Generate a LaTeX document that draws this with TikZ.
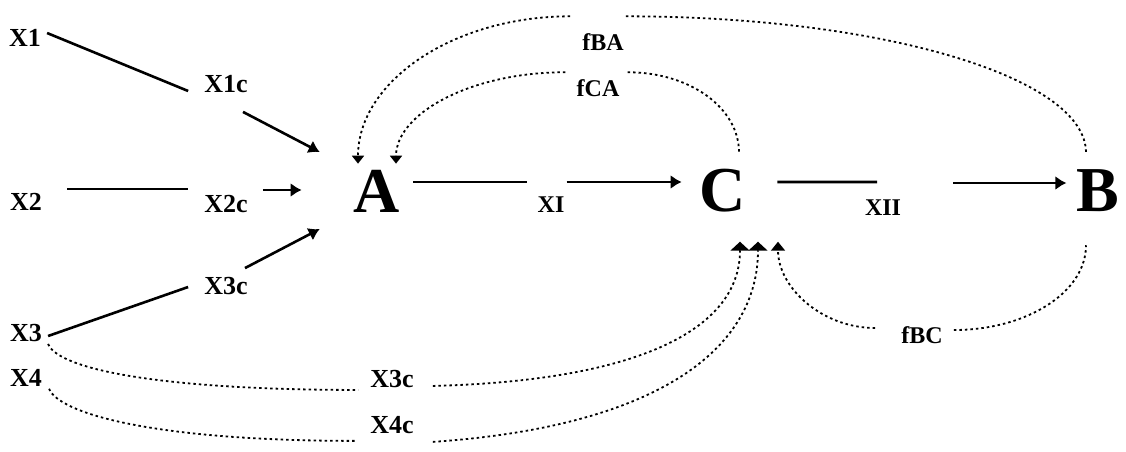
\documentclass[tikz,border=0pt]{standalone}
\usepackage{fontspec}
\setmainfont{Liberation Serif}
\usetikzlibrary{arrows.meta}

\begin{document}
\begin{tikzpicture}[x=1pt,y=-1pt,
  lbl/.style={font=\fontsize{26}{30}\selectfont\bfseries,inner sep=2pt},
  big/.style={font=\fontsize{64}{70}\selectfont\bfseries,inner sep=2pt},
  fb/.style={font=\fontsize{24}{28}\selectfont\bfseries,inner sep=2pt},
  link/.style={line width=2.6pt},
  flow/.style={line width=2.6pt,-{Latex[length=11pt,width=14pt]}},
  fbline/.style={line width=1.8pt,dash pattern=on 2.5pt off 3pt},
  fbarrow/.style={fbline,-{Triangle[length=8pt,width=12pt]}},
  inarrow/.style={fbline,-{Triangle[length=9pt,width=19pt]}},
  inarrowb/.style={fbline,-{Triangle[length=9pt,width=14pt]}}]
\useasboundingbox (0,0) rectangle (1126,451);

% inputs
\node[lbl] (x1) at (25,38) {X1};
\node[lbl] (x2) at (26,202) {X2};
\node[lbl] (x3) at (26,333) {X3};
\node[lbl] (x4) at (26,378) {X4};
\node[lbl] (x1c) at (226,84) {X1c};
\node[lbl] (x2c) at (226,204) {X2c};
\node[lbl] (x3c) at (226,286) {X3c};
\node[lbl] (x3d) at (392,379) {X3c};
\node[lbl] (x4c) at (392,425) {X4c};

% main chain
\node[big] (a) at (377,191) {A};
\node[big] (c) at (723,191) {C};
\node[big] (b) at (1098,191) {B};
\node[fb] (xi) at (551,205) {XI};
\node[fb] (xii) at (883,208) {XII};

% feedback labels
\node[fb] (fba) at (603,42) {fBA};
\node[fb] (fca) at (598,88) {fCA};
\node[fb] (fbc) at (922,335) {fBC};

% solid links
\draw[link] ([xshift=4pt,yshift=5pt]x1.east) -- ([xshift=-14pt,yshift=-7pt]x1c.west);
\draw[flow] ([xshift=17pt,yshift=-17pt]x1c.south) -- ([xshift=-32pt,yshift=39pt]a.west);
\draw[link] ([xshift=23pt,yshift=13pt]x2.east) -- ([xshift=-14pt,yshift=15pt]x2c.west);
\draw[flow] ([xshift=13pt,yshift=14pt]x2c.east) -- ([xshift=-50pt,yshift=1pt]a.west);
\draw[link] ([xshift=4pt,yshift=-3pt]x3.east) -- ([xshift=-14pt,yshift=-1pt]x3c.west);
\draw[flow] ([xshift=19pt,yshift=7pt]x3c.north) -- ([xshift=-32pt,yshift=-38pt]a.west);
\draw[link] ([xshift=11pt,yshift=9pt]a.east) -- ([xshift=-8pt,yshift=23pt]xi.west);
\draw[flow] ([yshift=23pt]xi.east) -- ([xshift=-16pt,yshift=9pt]c.west);
\draw[link] ([xshift=29pt,yshift=9pt]c.east) -- ([xshift=-6pt,yshift=16pt]xii.north);
\draw[flow] ([xshift=50pt,yshift=25pt]xii.east) -- ([xshift=-8pt,yshift=8pt]b.west);

% feedback loops
\draw[fbarrow] ([xshift=-10pt,yshift=15pt]fba.north west) .. controls +(-117,0) and +(0,-82) .. ([xshift=-19pt,yshift=4pt]a.north);
\draw[fbline] ([yshift=15pt]fba.north east) .. controls +(254,0) and +(0,-76) .. ([xshift=-12pt,yshift=15pt]b.north);
\draw[fbarrow] ([xshift=-9pt,yshift=5pt]fca.north west) .. controls +(-95,0) and +(0,-50) .. ([xshift=19pt,yshift=4pt]a.north);
\draw[fbline] ([xshift=6pt,yshift=5pt]fca.north east) .. controls +(63,0) and +(0,-44) .. ([xshift=16pt,yshift=15pt]c.north);
\draw[inarrowb] ([xshift=-24pt,yshift=7pt]fbc.west) .. controls +(-53,0) and +(0,46) .. ([xshift=55pt,yshift=-27pt]c.south);
\draw[fbline] ([xshift=9pt,yshift=5pt]fbc.east) .. controls +(73,0) and +(0,47) .. ([xshift=-12pt,yshift=-31pt]b.south);

% dotted inputs into C
\draw[fbline] ([xshift=4pt]x3.south east) .. controls +(10,25) and +(-200,0) .. ([xshift=-10pt]x3d.south west);
\draw[fbline] ([xshift=5pt]x4.south east) .. controls +(10,25) and +(-200,0) .. ([xshift=-13pt,yshift=-5pt]x4c.south west);
\draw[inarrow] ([xshift=17pt,yshift=4pt]x3d.south east) .. controls +(200,-5) and +(0,90) .. ([xshift=17pt,yshift=-27pt]c.south);
\draw[inarrow] ([xshift=17pt,yshift=-6pt]x4c.south east) .. controls +(220,-15) and +(0,110) .. ([xshift=35pt,yshift=-27pt]c.south);
\end{tikzpicture}
\end{document}
